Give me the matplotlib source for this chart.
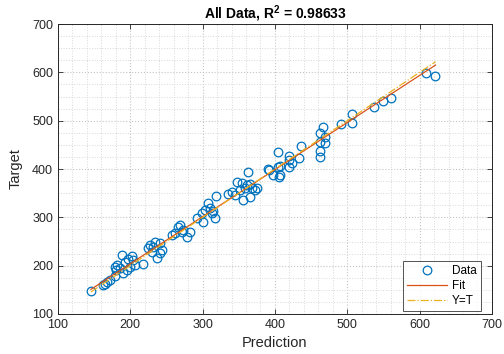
import numpy as np
import matplotlib
matplotlib.use("Agg")
import matplotlib.pyplot as plt
from matplotlib.ticker import MultipleLocator

plt.rcParams['font.family'] = ['Liberation Sans', 'DejaVu Sans']
plt.rcParams['mathtext.fontset'] = 'custom'
plt.rcParams['mathtext.rm'] = 'Liberation Sans'
plt.rcParams['mathtext.bf'] = 'Liberation Sans:bold'

# Model predictions and measured targets
prediction = [
    145.6, 161.8, 165.0, 171.9, 168.2, 178.8, 180.2, 181.0, 188.0, 178.8,
    190.3, 195.0, 192.6, 197.2, 201.9, 204.0, 206.5, 199.5, 218.0, 186.0,
    224.9, 227.2, 234.1, 241.0, 229.5, 236.4, 241.0, 243.4, 231.8,
    257.2, 261.8, 266.4, 268.7, 271.0, 273.3, 278.0, 282.5,
    291.7, 298.6, 303.2, 307.8, 310.1, 312.5, 317.0, 318.4, 300.9, 314.7,
    335.5, 340.1, 344.7, 347.0, 351.6, 356.2, 358.5, 360.9, 363.1, 367.8,
    372.4, 353.9, 365.5, 374.7, 365.5,
    390.8, 392.0, 404.6, 396.8, 407.0, 406.0, 404.6, 407.0, 419.8, 419.8,
    423.0, 419.0, 433.6, 435.5,
    463.0, 466.0, 463.0, 469.0, 469.0, 462.0, 462.0,
    492.0, 506.0, 506.0, 537.0, 549.0, 560.0, 609.3, 622.0,
]
target = [
    148.2, 160.0, 161.4, 170.3, 165.5, 178.6, 191.0, 201.4, 222.0, 198.0,
    185.5, 191.0, 208.2, 213.0, 220.0, 211.7, 201.4, 198.0, 203.0, 195.0,
    235.9, 242.8, 249.6, 246.2, 229.0, 215.2, 225.5, 232.4, 238.0,
    263.4, 267.0, 281.0, 284.0, 270.0, 273.8, 260.0, 270.0,
    298.0, 308.3, 315.2, 329.0, 318.6, 308.3, 298.0, 344.0, 289.4, 312.3,
    348.3, 353.0, 346.2, 373.7, 356.6, 335.9, 360.0, 366.9, 394.4, 360.0,
    356.6, 370.8, 343.0, 360.0, 370.0,
    401.0, 398.0, 435.8, 387.6, 387.6, 383.0, 404.8, 406.0, 427.0, 418.6,
    411.8, 403.4, 422.0, 447.6,
    474.0, 486.0, 456.6, 453.0, 467.0, 438.0, 425.6,
    494.0, 494.6, 513.8, 529.0, 540.7, 548.0, 598.6, 592.0,
]
x_ticks = [100, 200, 300, 400, 500, 600, 700]
y_ticks = [100, 200, 300, 400, 500, 600, 700]
title_text = r'All Data, R$^{\mathbf{2}}$ = 0.98633'

pred = np.asarray(prediction)
targ = np.asarray(target)
# regression of prediction on target, drawn in the target-vs-prediction frame
a, b = np.polyfit(targ, pred, 1)
line_x = np.array([pred.min(), pred.max()])
fit_y = (line_x - b) / a

fig = plt.figure(figsize=(5.04, 3.54), dpi=100)
ax = fig.add_axes([0.115, 0.113, 0.861, 0.819])

ax.plot(pred, targ, 'o', mfc='none', mec='#0072BD', ms=6.2, mew=0.9,
        label='Data', zorder=3)
ax.plot(line_x, fit_y, '-', color='#D95319', lw=0.9, label='Fit', zorder=4)
ax.plot(line_x, line_x, '-.', color='#EDB120', lw=0.9, label='Y=T', zorder=4)

ax.set_xlim(100, 700)
ax.set_ylim(100, 700)
ax.set_xticks(x_ticks)
ax.set_yticks(y_ticks)
ax.xaxis.set_minor_locator(MultipleLocator(20))
ax.yaxis.set_minor_locator(MultipleLocator(25))
ax.grid(which='major', linestyle=':', color='#c4c4c4', lw=0.8)
ax.grid(which='minor', linestyle=':', color='#d8d8d8', lw=0.7)
ax.set_axisbelow(True)

ax.tick_params(which='both', direction='in', top=True, right=True,
               labelsize=9, colors='#262626', width=0.6)
ax.tick_params(which='major', length=3.5)
ax.tick_params(which='minor', length=0)
for s in ax.spines.values():
    s.set_color('#262626')
    s.set_linewidth(0.7)

ax.set_xlabel('Prediction', fontsize=10.5, color='#262626', labelpad=4)
ax.set_ylabel('Target', fontsize=10.5, color='#262626', labelpad=7)
ax.set_title(title_text, fontsize=10, fontweight='bold', pad=4)

leg = ax.legend(loc='lower right', fontsize=8.5, frameon=True, fancybox=False,
                edgecolor='#262626', borderpad=0.35, handlelength=3.4,
                labelspacing=0.25, handletextpad=0.4, borderaxespad=0,
                bbox_to_anchor=(0.975, 0.01))
leg.get_frame().set_linewidth(0.7)

fig.savefig('out.png', dpi=100)
